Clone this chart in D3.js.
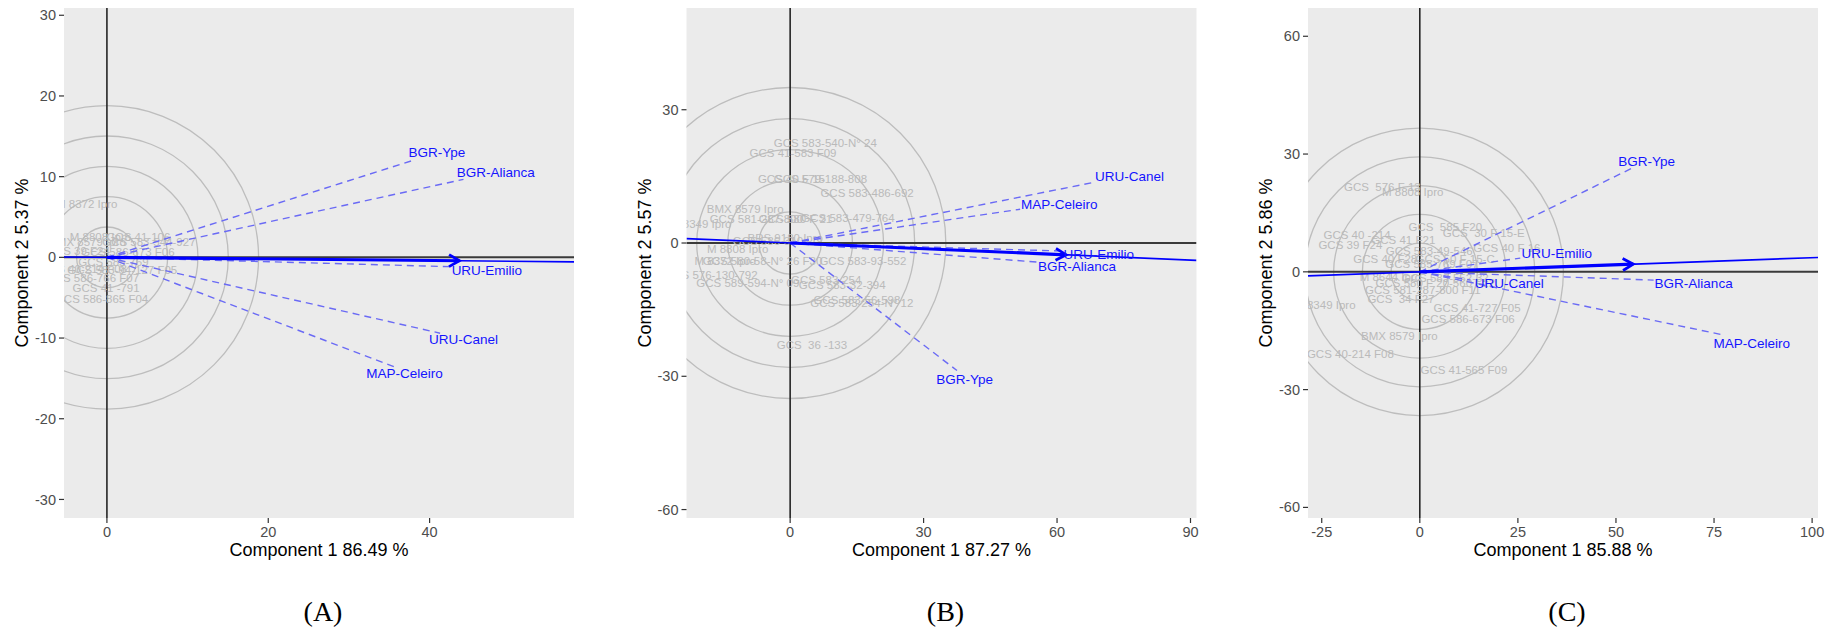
<!DOCTYPE html>
<html>
<head>
<meta charset="utf-8">
<script src="https://cdn.jsdelivr.net/npm/d3@7/dist/d3.min.js"></script>
<style>
  body { margin: 0; background: #ffffff; }
  svg { display: block; }
</style>
</head>
<body>
<div id="chart"></div>
<script>
// ---- data ----
const panelNames = ["(A)", "(B)", "(C)"];
const xTitles = ["Component 1 86.49 %", "Component 1 87.27 %", "Component 1 85.88 %"];
const yTitles = ["Component 2 5.37 %", "Component 2 5.57 %", "Component 2 5.86 %"];

const xDomains = [[-5.32, 57.9], [-23.3, 91.35], [-28.5, 101.5]];
const yDomains = [[-32.3, 30.9], [-61.9, 52.9], [-62.7, 67.2]];
const xTicks = [[0, 20, 40], [0, 30, 60, 90], [-25, 0, 25, 50, 75, 100]];
const yTicks = [[-30, -20, -10, 0, 10, 20, 30], [-60, -30, 0, 30], [-60, -30, 0, 30, 60]];

const ringsA = [3.76, 7.52, 11.28, 15.04, 18.8];
const ringsB = [7, 14, 21, 28, 35];
const ringsC = [7.32, 14.64, 21.96, 29.28, 36.6];

// average environment axis: arrow tip
const aecTips = [[43.7, -0.42], [62.05, -2.65], [54.4, 1.96]];

// environment vectors: name, end x, end y, label x, label y
const envA = [
  ["BGR-Ype", 38.2, 12.1, 40.9, 13.0],
  ["BGR-Alianca", 44.2, 9.67, 48.2, 10.5],
  ["URU-Emilio", 42.7, -1.16, 47.1, -1.66],
  ["URU-Canel", 41.3, -9.4, 44.2, -10.2],
  ["MAP-Celeiro", 36.1, -13.75, 36.9, -14.4]
];
const envB = [
  ["URU-Canel", 68.5, 13.7, 76.3, 15.1],
  ["MAP-Celeiro", 51.7, 7.6, 60.5, 8.7],
  ["URU-Emilio", 60.8, -1.8, 69.4, -2.5],
  ["BGR-Alianca", 55.6, -4.3, 64.5, -5.2],
  ["BGR-Ype", 37.5, -28.7, 39.2, -30.7]
];
const envC = [
  ["BGR-Ype", 54.8, 26.75, 57.8, 28.2],
  ["URU-Emilio", 25.6, 3.5, 34.9, 4.7],
  ["URU-Canel", 12.9, -2.1, 22.8, -2.96],
  ["BGR-Alianca", 59.6, -2.1, 69.8, -2.96],
  ["MAP-Celeiro", 77.5, -16.1, 84.6, -18.2]
];

// genotype labels: name, x, y
const genoA = [
  ["M 8372 Ipro", -2.5, 6.6],
  ["M 8808 Ipro", -0.8, 2.55],
  ["GCS 41-106", 3.9, 2.55],
  ["BMX 8579 Ipro", -2.4, 1.95],
  ["GCS 583-544-927", 5.2, 1.9],
  ["GCS 39 F24", -3.6, 0.75],
  ["GCS 586-673 F06", 2.6, 0.7],
  ["GCS 585-769", 0.8, -0.55],
  ["GCS 40-214 F08", -2.9, -1.5],
  ["GCS 583-94-127 F05", 1.9, -1.6],
  ["GCS 586-766 F07", -1.8, -2.6],
  ["GCS 41 -791", -0.1, -3.84],
  ["GCS 586-865 F04", -0.66, -5.1]
];
const genoB = [
  ["GCS 583-540-N° 24", 7.9, 22.5],
  ["GCS 41-583 F09", 0.65, 20.3],
  ["GCS 40 F 15", 0.3, 14.5],
  ["GCS 579-188-808", 6.8, 14.5],
  ["GCS 583-486-692", 17.3, 11.3],
  ["BMX 8579 Ipro", -10.1, 7.75],
  ["GCS 581-287-800", -7.6, 5.3],
  ["GCS 580 F 21", 1.2, 5.3],
  ["GCS 583-479-764", 13.0, 5.7],
  ["M 8349 Ipro", -20.1, 4.2],
  ["BRS 9180 Ipro", -1.1, 1.2],
  ["GCS 586-310", -5.0, 0.4],
  ["M 8808 Ipro", -11.8, -1.3],
  ["M 8372 Ipro", -14.6, -4.05],
  ["GCS 580-58-N° 26 F30", -6.2, -4.05],
  ["GCS 583-93-552", 16.35, -4.05],
  ["GCS 576-130-792", -17.8, -7.3],
  ["GCS 589-594-N° 09", -9.5, -9.1],
  ["GCS 583-254", 8.1, -8.3],
  ["GCS 583-32-394", 11.7, -9.5],
  ["GCS 583-56-598", 15.0, -12.9],
  ["GCS 583-254-N° 12", 16.1, -13.6],
  ["GCS  36 -133", 4.9, -23.0]
];
const genoC = [
  ["GCS  576 F 13", -9.55, 21.5],
  ["M 8808 Ipro", -1.8, 20.4],
  ["GCS  585 F20", 6.5, 11.5],
  ["GCS  30 F 15-E", 16.3, 9.8],
  ["GCS 40 -214", -16.0, 9.5],
  ["GCS 41 F21", -4.2, 8.1],
  ["GCS 39 F24", -17.7, 6.8],
  ["GCS 583-49-546", 2.4, 5.3],
  ["GCS 40 F 16", 22.2, 6.0],
  ["GCS 40 F28", -8.8, 3.2],
  ["GCS 50 F 15-C", 9.0, 3.2],
  ["GCS 585-769 F07", 3.1, 1.9],
  ["M 8644 Ipro", -7.5, -1.4],
  ["GCS 583-552-32", 6.5, -1.6],
  ["GCS 580 F 20-560 F12", 3.95, -2.95],
  ["GCS 581-287-800 F11", 0.76, -4.7],
  ["GCS  34 F27", -4.8, -6.95],
  ["M 8349 Ipro", -24.2, -8.5],
  ["GCS 41-727 F05", 14.6, -9.3],
  ["GCS 586-673 F06", 12.3, -12.05],
  ["BMX 8579 Ipro", -5.2, -16.4],
  ["GCS 40-214 F08", -17.7, -20.8],
  ["GCS 41-565 F09", 11.25, -25.0]
];

const rings = [ringsA, ringsB, ringsC];
const envs = [envA, envB, envC];
const genos = [genoA, genoB, genoC];

// ---- layout ----
const width = 1832;
const height = 635;
const panelLefts = [64, 686.5, 1308];
const panelTop = 8;
const panelSize = 510;

const svg = d3.select("#chart").append("svg")
  .attr("width", width)
  .attr("height", height)
  .style("font-family", "Liberation Sans, Arial, sans-serif");

svg.append("rect")
  .attr("width", width)
  .attr("height", height)
  .attr("fill", "#ffffff");

panelNames.forEach((name, i) => {
  const left = panelLefts[i];
  const right = left + panelSize;
  const bottom = panelTop + panelSize;

  const x = d3.scaleLinear().domain(xDomains[i]).range([left, right]);
  const y = d3.scaleLinear().domain(yDomains[i]).range([bottom, panelTop]);

  const g = svg.append("g");

  // panel background
  g.append("rect")
    .attr("x", left)
    .attr("y", panelTop)
    .attr("width", panelSize)
    .attr("height", panelSize)
    .attr("fill", "#ebebeb");

  svg.append("clipPath")
    .attr("id", "clip" + i)
    .append("rect")
      .attr("x", left)
      .attr("y", panelTop)
      .attr("width", panelSize)
      .attr("height", panelSize);

  const inner = g.append("g").attr("clip-path", `url(#clip${i})`);

  // concentric circles around the origin
  inner.selectAll("ellipse.ring")
    .data(rings[i])
    .join("ellipse")
      .attr("class", "ring")
      .attr("cx", x(0))
      .attr("cy", y(0))
      .attr("rx", d => x(d) - x(0))
      .attr("ry", d => y(0) - y(d))
      .attr("fill", "none")
      .attr("stroke", "#bdbdbd")
      .attr("stroke-width", 1.3);

  // zero axes
  inner.append("line")
    .attr("x1", left).attr("x2", right)
    .attr("y1", y(0)).attr("y2", y(0))
    .attr("stroke", "#3a3a3a")
    .attr("stroke-width", 2);
  inner.append("line")
    .attr("x1", x(0)).attr("x2", x(0))
    .attr("y1", panelTop).attr("y2", bottom)
    .attr("stroke", "#262626")
    .attr("stroke-width", 1.6);

  // genotype labels
  inner.selectAll("text.geno")
    .data(genos[i])
    .join("text")
      .attr("class", "geno")
      .attr("x", d => x(d[1]))
      .attr("y", d => y(d[2]))
      .attr("dy", "0.35em")
      .attr("text-anchor", "middle")
      .style("font-size", "11.5px")
      .style("white-space", "pre")
      .style("fill", "#bababa")
      .text(d => d[0]);

  // environment vectors (dashed)
  inner.selectAll("line.env")
    .data(envs[i])
    .join("line")
      .attr("class", "env")
      .attr("x1", x(0))
      .attr("y1", y(0))
      .attr("x2", d => x(d[1]))
      .attr("y2", d => y(d[2]))
      .attr("stroke", "#6a6af5")
      .attr("stroke-width", 1.4)
      .attr("stroke-dasharray", "7,5");

  // average environment axis (thin line across the panel)
  const tip = aecTips[i];
  const slope = tip[1] / tip[0];
  const x0 = xDomains[i][0];
  const x1 = xDomains[i][1];
  inner.append("line")
    .attr("x1", x(x0)).attr("y1", y(slope * x0))
    .attr("x2", x(x1)).attr("y2", y(slope * x1))
    .attr("stroke", "#0000ff")
    .attr("stroke-width", 1.6);

  // thick arrow from origin to average environment
  inner.append("line")
    .attr("x1", x(0)).attr("y1", y(0))
    .attr("x2", x(tip[0])).attr("y2", y(tip[1]))
    .attr("stroke", "#0000ff")
    .attr("stroke-width", 3.2);

  const tx = x(tip[0]);
  const ty = y(tip[1]);
  const ang = Math.atan2(ty - y(0), tx - x(0));
  const len = 12;
  const spread = Math.PI / 6;
  inner.append("path")
    .attr("d", `M${tx - len * Math.cos(ang - spread)},${ty - len * Math.sin(ang - spread)}` +
               `L${tx},${ty}` +
               `L${tx - len * Math.cos(ang + spread)},${ty - len * Math.sin(ang + spread)}`)
    .attr("fill", "none")
    .attr("stroke", "#0000ff")
    .attr("stroke-width", 2.8)
    .attr("stroke-linejoin", "miter");

  // environment labels
  inner.selectAll("text.env")
    .data(envs[i])
    .join("text")
      .attr("class", "env")
      .attr("x", d => x(d[3]))
      .attr("y", d => y(d[4]))
      .attr("dy", "0.35em")
      .attr("text-anchor", "middle")
      .style("font-size", "13.5px")
      .style("fill", "#1414ff")
      .text(d => d[0]);

  // y axis ticks
  const yAxis = g.append("g");
  yAxis.selectAll("line")
    .data(yTicks[i])
    .join("line")
      .attr("x1", left - 5).attr("x2", left)
      .attr("y1", d => y(d)).attr("y2", d => y(d))
      .attr("stroke", "#333333")
      .attr("stroke-width", 1.2);
  yAxis.selectAll("text")
    .data(yTicks[i])
    .join("text")
      .attr("x", left - 8)
      .attr("y", d => y(d))
      .attr("dy", "0.35em")
      .attr("text-anchor", "end")
      .style("font-size", "14.5px")
      .style("fill", "#4d4d4d")
      .text(d => d);

  // x axis ticks
  const xAxis = g.append("g");
  xAxis.selectAll("line")
    .data(xTicks[i])
    .join("line")
      .attr("x1", d => x(d)).attr("x2", d => x(d))
      .attr("y1", bottom).attr("y2", bottom + 5)
      .attr("stroke", "#333333")
      .attr("stroke-width", 1.2);
  xAxis.selectAll("text")
    .data(xTicks[i])
    .join("text")
      .attr("x", d => x(d))
      .attr("y", 537)
      .attr("text-anchor", "middle")
      .style("font-size", "14.5px")
      .style("fill", "#4d4d4d")
      .text(d => d);

  // axis titles
  g.append("text")
    .attr("x", (left + right) / 2)
    .attr("y", 556)
    .attr("text-anchor", "middle")
    .style("font-size", "18px")
    .style("fill", "#000000")
    .text(xTitles[i]);

  g.append("text")
    .attr("transform", `translate(${left - 36},${(panelTop + bottom) / 2}) rotate(-90)`)
    .attr("text-anchor", "middle")
    .style("font-size", "18px")
    .style("fill", "#000000")
    .text(yTitles[i]);

  // panel caption
  g.append("text")
    .attr("x", (left + right) / 2 + 4)
    .attr("y", 621)
    .attr("text-anchor", "middle")
    .style("font-family", "Liberation Serif, Times New Roman, serif")
    .style("font-size", "28px")
    .style("fill", "#000000")
    .text(name);
});
</script>
</body>
</html>
